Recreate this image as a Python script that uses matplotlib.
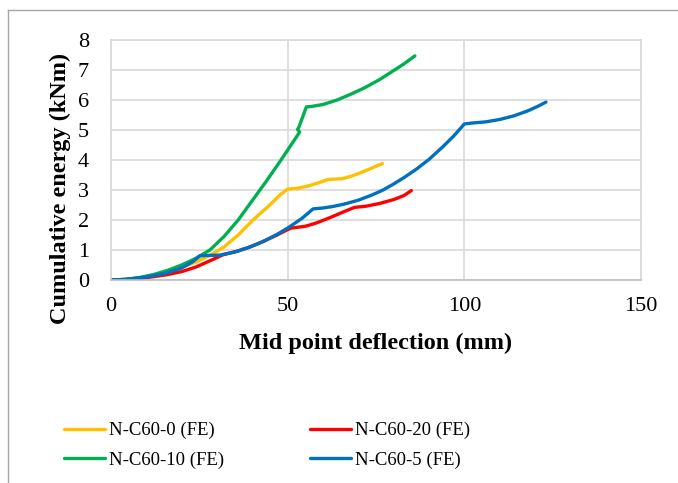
import matplotlib
matplotlib.use('Agg')
import matplotlib.pyplot as plt
from matplotlib.lines import Line2D

# mid point deflection (mm) / cumulative energy (kNm)
x_c0 = [0, 4, 8, 12, 16, 20, 24, 28, 32, 36, 40, 44, 48, 50, 53, 56, 59, 61.4, 65.6, 68, 71, 74, 76.8]
y_c0 = [0, 0.02, 0.07, 0.16, 0.28, 0.42, 0.6, 0.82, 1.1, 1.5, 1.98, 2.4, 2.85, 3.03, 3.06, 3.14, 3.25, 3.35, 3.38, 3.46, 3.59, 3.74, 3.88]

x_c10 = [0, 4, 8, 12, 16, 20, 24, 28, 32, 36, 40, 44, 48, 50, 53.4, 52.8, 53.2, 55.3, 56.5, 60, 64, 68, 72, 76, 80, 83, 86]
y_c10 = [0, 0.02, 0.08, 0.18, 0.32, 0.5, 0.72, 1.0, 1.45, 2.0, 2.65, 3.3, 3.98, 4.33, 4.93, 5.02, 5.1, 5.77, 5.78, 5.85, 6.0, 6.2, 6.42, 6.68, 6.98, 7.21, 7.47]

x_c20 = [0, 4, 8, 12, 16, 20, 24, 28, 31.7, 36, 39.3, 43, 47, 50, 51, 55, 58.1, 62, 66, 68.9, 72.2, 76, 80, 83, 85]
y_c20 = [0, 0.01, 0.05, 0.11, 0.18, 0.28, 0.43, 0.64, 0.84, 0.97, 1.1, 1.28, 1.5, 1.68, 1.73, 1.79, 1.9, 2.08, 2.28, 2.42, 2.46, 2.55, 2.68, 2.82, 2.98]

x_c5 = [0, 4, 8, 12, 16, 20, 23, 25.2, 30.8, 35, 39.3, 43, 47, 50, 54, 57.2, 60, 62.8, 66, 70, 74, 77, 80, 83, 86.5, 90, 94, 97, 100, 102, 106, 110, 114, 118, 121, 123.1]
y_c5 = [0, 0.02, 0.07, 0.14, 0.24, 0.4, 0.6, 0.81, 0.83, 0.93, 1.1, 1.28, 1.52, 1.73, 2.05, 2.37, 2.4, 2.45, 2.53, 2.66, 2.84, 3.0, 3.2, 3.42, 3.7, 4.02, 4.45, 4.8, 5.2, 5.23, 5.27, 5.35, 5.47, 5.64, 5.8, 5.93]

series = [
    ('N-C60-0 (FE)', x_c0, y_c0, '#FFC000'),
    ('N-C60-10 (FE)', x_c10, y_c10, '#00B050'),
    ('N-C60-20 (FE)', x_c20, y_c20, '#FF0000'),
    ('N-C60-5 (FE)', x_c5, y_c5, '#0070C0'),
]

plt.rcParams['font.family'] = ['Liberation Serif', 'DejaVu Serif']

fig = plt.figure(figsize=(6.78, 4.83), dpi=100)
ax = fig.add_axes([0.1637, 0.4203, 0.7817, 0.4969])

handles = []
for name, xs, ys, c in series:
    h, = ax.plot(xs, ys, color=c, lw=2.4, label=name, solid_capstyle='round', solid_joinstyle='round')
    handles.append(h)

ax.set_xlim(0, 150)
ax.set_ylim(0, 8)
ax.set_xticks([0, 50, 100, 150])
ax.set_yticks(range(0, 9))
ax.grid(True, color='#d9d9d9', lw=1.2)
ax.set_axisbelow(True)
for s in ax.spines.values():
    s.set_color('#d9d9d9')
    s.set_linewidth(1.2)
ax.spines['bottom'].set_color('#bfbfbf')
ax.tick_params(length=0, labelsize=16, pad=12)
ax.tick_params(axis='y', pad=16)

ax.set_xlabel('Mid point deflection (mm)', fontsize=17.5, fontweight='bold', labelpad=12)
ax.set_ylabel('Cumulative energy (kNm)', fontsize=17.5, fontweight='bold')
ax.yaxis.set_label_coords(-0.076, 0.38)

fig.legend(handles=handles, ncol=2, loc='upper left', bbox_to_anchor=(0.083, 0.142),
           frameon=False, fontsize=13.5, handlelength=2.2, handletextpad=0.2,
           columnspacing=4.6, labelspacing=0.65, borderaxespad=0)

# chart area border (top and left visible)
fig.add_artist(Line2D([0.012, 1.0], [0.979, 0.979], transform=fig.transFigure, color='#a6a6a6', lw=1))
fig.add_artist(Line2D([0.012, 0.012], [0.0, 0.979], transform=fig.transFigure, color='#a6a6a6', lw=1))

fig.savefig('out.png', dpi=100)
